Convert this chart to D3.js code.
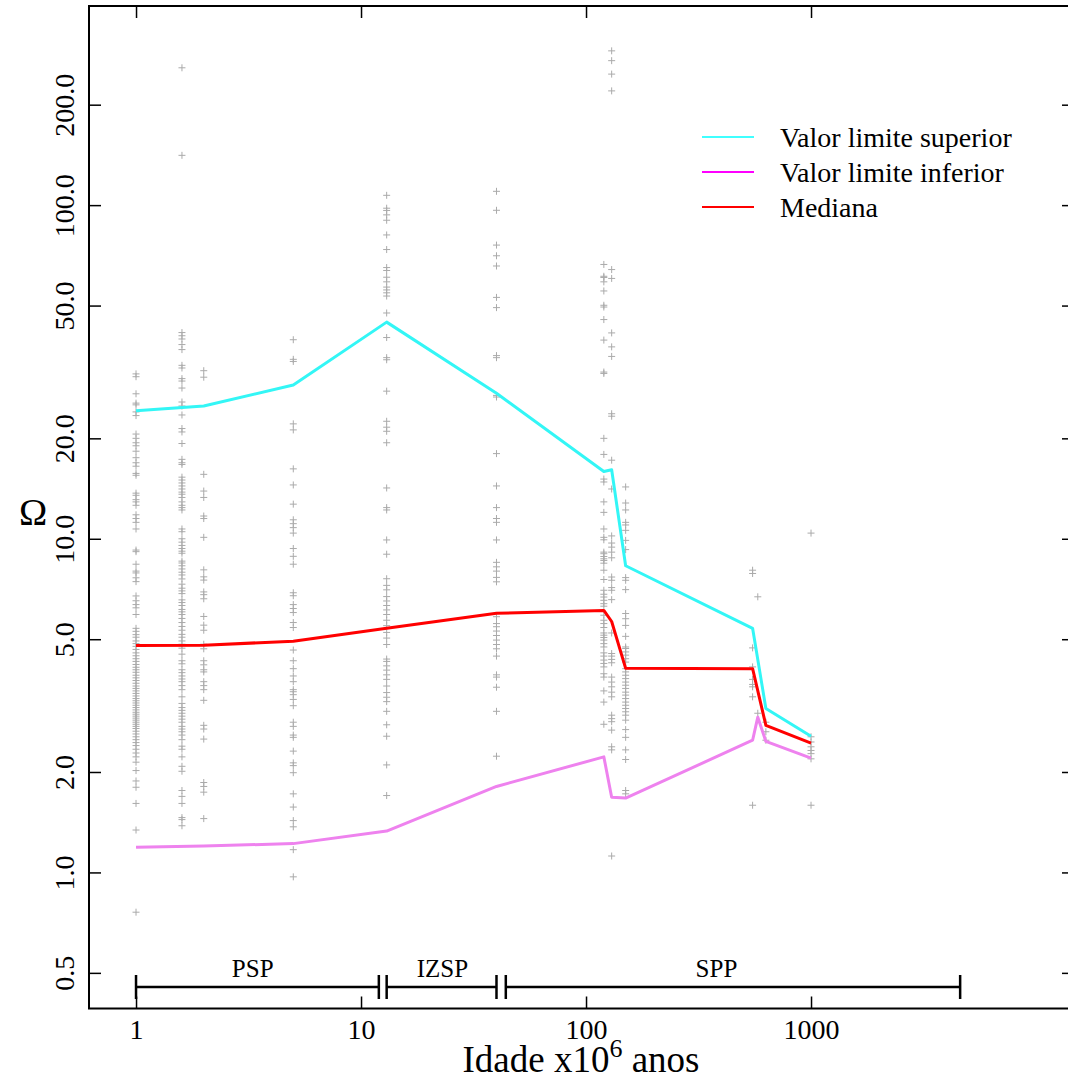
<!DOCTYPE html>
<html lang="pt">
<head>
<meta charset="utf-8">
<title>Omega x idade</title>
<style>
  body { margin: 0; background: #fff; overflow: hidden; }
  svg text { font-family: "Liberation Serif", "Times New Roman", serif; fill: #000; }
</style>
<script src="https://cdn.jsdelivr.net/npm/d3@7"></script>
</head>
<body>
<script>

// idades (x10^6 anos) das curvas
var idades    = [1, 2, 5, 13, 40, 120, 130, 150, 550, 580, 630, 1000];
var superior  = [24.2, 25.0, 28.9, 44.6, 27.3, 15.9, 16.1, 8.3, 5.39, null, 3.1, 2.56];
var mediana   = [4.79, 4.8, 4.93, 5.39, 5.98, 6.1, 5.65, 4.09, 4.08, null, 2.76, 2.44];
var inferior  = [1.19, 1.2, 1.22, 1.33, 1.81, 2.22, 1.68, 1.67, 2.49, 2.92, 2.47, 2.2];

// medidas individuais por idade
var omega_1 = [31.2, 30.6, 27.2, 25.5, 25.2, 24.0, 23.4, 20.6, 20.0, 19.4, 19.0, 18.3, 17.5, 16.9, 16.5,
  15.7, 15.5, 13.7, 13.5, 13.1, 12.9, 12.6, 11.8, 11.5, 11.2, 10.7, 9.25, 9.15, 8.39, 8.0, 7.9, 7.64,
  7.44, 6.74, 6.52, 6.35, 6.21, 5.93, 5.39, 5.28, 5.16, 5.07, 4.94, 4.85, 4.76, 4.66, 4.55, 4.46, 4.37,
  4.29, 4.2, 4.12, 4.05, 3.98, 3.9, 3.83, 3.76, 3.69, 3.62, 3.56, 3.5, 3.44, 3.38, 3.32, 3.27, 3.22,
  3.17, 3.12, 3.07, 3.02, 2.98, 2.94, 2.9, 2.86, 2.82, 2.78, 2.74, 2.7, 2.65, 2.6, 2.55, 2.5, 2.45,
  2.4, 2.34, 2.28, 2.22, 2.14, 2.02, 1.88, 1.8, 1.61, 1.34, 0.76];
var omega_1_6 = [258, 141, 41.5, 40.6, 39.7, 38.2, 36.9, 33.1, 32.5, 30.2, 29.7, 28.3, 25.7, 25.0, 23.5,
  21.4, 20.9, 19.3, 17.3, 16.9, 16.7, 15.3, 15.0, 14.7, 14.4, 14.1, 13.8, 13.6, 13.3, 12.9, 12.6, 12.4,
  12.2, 10.7, 10.5, 10.0, 9.77, 9.55, 9.35, 9.18, 9.05, 8.57, 8.46, 8.3, 8.12, 7.94, 7.79, 7.58, 7.31,
  7.11, 6.98, 6.85, 6.56, 6.44, 6.31, 6.14, 6.04, 5.93, 5.77, 5.61, 5.46, 5.32, 5.17, 5.07, 4.94, 4.83,
  4.7, 4.51, 4.31, 4.22, 4.05, 3.97, 3.88, 3.8, 3.73, 3.63, 3.53, 3.36, 3.21, 3.12, 3.06, 3.0, 2.94,
  2.88, 2.82, 2.74, 2.69, 2.64, 2.58, 2.5, 2.39, 2.34, 2.22, 2.08, 2.01, 1.76, 1.69, 1.61, 1.46, 1.44, 1.38];
var omega_2 = [31.9, 30.5, 15.6, 13.9, 13.3, 11.7, 11.5, 10.1, 8.07, 7.69, 7.52, 6.93, 6.8, 6.61, 5.85,
  5.51, 5.32, 4.83, 4.68, 4.31, 4.19, 4.05, 3.99, 3.73, 3.63, 3.53, 3.28, 2.76, 2.69, 2.51, 1.86, 1.81,
  1.74, 1.45];
var omega_5 = [39.5, 34.5, 34.0, 22.1, 21.2, 16.2, 14.5, 12.7, 11.4, 11.1, 10.8, 10.4, 9.35, 8.86, 8.39,
  6.89, 6.75, 6.35, 6.18, 6.01, 5.61, 5.42, 4.64, 4.31, 4.08, 3.88, 3.73, 3.53, 3.48, 3.41, 3.3, 3.16,
  2.82, 2.74, 2.58, 2.54, 2.31, 2.13, 2.09, 1.99, 1.72, 1.57, 1.43, 1.37, 1.17, 0.97];
var omega_13 = [107, 97.9, 96.4, 93.5, 90.1, 81.4, 73.6, 65.0, 63.7, 60.8, 58.9, 56.8, 55.7, 54.6, 53.4,
  47.5, 40.1, 34.9, 34.4, 27.7, 22.5, 21.6, 21.0, 19.4, 14.2, 12.4, 12.2, 9.92, 8.99, 7.59, 7.25, 7.03,
  6.71, 6.51, 6.31, 6.12, 5.93, 5.7, 5.49, 5.24, 5.04, 4.82, 4.36, 4.29, 4.16, 4.04, 3.91, 3.79, 3.62,
  3.46, 3.35, 3.25, 3.04, 2.77, 2.56, 2.1, 1.7];
var omega_40 = [110, 96.5, 75.9, 70.5, 65.7, 52.9, 49.3, 35.4, 34.9, 26.9, 26.6, 18.0, 14.4, 12.4, 11.5,
  11.2, 9.92, 8.5, 8.24, 8.0, 7.66, 7.43, 5.84, 5.57, 5.45, 5.29, 5.13, 4.97, 4.82, 4.68, 4.45, 3.91,
  3.85, 3.59, 3.04, 2.23];
var omega_120 = [66.4, 61.2, 60.7, 58.9, 55.3, 50.1, 49.5, 45.4, 39.4, 31.6, 31.3, 20.0, 17.9, 15.1, 14.8,
  12.9, 12.0, 10.7, 10.1, 9.93, 9.12, 9.02, 8.85, 8.71, 8.61, 8.45, 8.05, 7.55, 7.01, 6.82, 6.69, 6.54,
  6.39, 6.28, 5.9, 5.7, 5.57, 5.42, 5.22, 5.14, 5.06, 4.97, 4.85, 4.74, 4.55, 4.45, 4.33, 4.23, 4.13,
  3.94, 3.85, 3.5, 3.24, 2.78];
var omega_130 = [290, 271, 247, 220, 64.1, 60.3, 41.4, 37.6, 35.2, 23.7, 23.3, 17.2, 14.1, 10.2, 9.71,
  9.44, 9.12, 8.77, 7.68, 7.51, 7.14, 7.01, 6.57, 5.22, 4.53, 4.45, 4.35, 4.25, 3.85, 3.72, 3.6, 3.47,
  3.36, 2.96, 2.89, 2.83, 2.67, 2.38, 2.33, 1.12];
var omega_150 = [14.3, 12.8, 12.2, 11.2, 11.0, 10.6, 9.89, 9.28, 7.65, 7.51, 7.04, 5.97, 5.76, 5.5, 5.1,
  4.74, 4.69, 4.58, 4.48, 4.37, 4.27, 4.08, 3.99, 3.9, 3.81, 3.72, 3.64, 3.56, 3.47, 3.4, 3.32, 3.24,
  3.17, 3.1, 3.03, 2.96, 2.86, 2.68, 2.54, 2.33, 2.18, 1.76, 1.72];
var omega_550 = [8.05, 7.87, 4.71, 4.13, 3.79, 3.66, 3.6, 3.36, 1.59];
var omega_580 = [6.7, 3.0];
var omega_630 = [2.82, 2.64, 2.49];
var omega_1000 = [10.4, 2.55, 2.46, 2.38, 2.32, 2.27, 2.19, 1.59];

var colunas = [
  {idade: 1, v: omega_1}, {idade: 1.6, v: omega_1_6}, {idade: 2, v: omega_2},
  {idade: 5, v: omega_5}, {idade: 13, v: omega_13}, {idade: 40, v: omega_40},
  {idade: 120, v: omega_120}, {idade: 130, v: omega_130}, {idade: 150, v: omega_150},
  {idade: 550, v: omega_550}, {idade: 580, v: omega_580}, {idade: 630, v: omega_630},
  {idade: 1000, v: omega_1000}
];

// periodos geologicos (inicio, fim, posicao do rotulo)
var periodos   = ['PSP', 'IZSP', 'SPP'];
var per_inicio = [1, 13, 44];
var per_fim    = [12, 40, 4600];
var per_rotulo = [3.3, 23, 380];

var yTicks = [0.5, 1, 2, 5, 10, 20, 50, 100, 200];
var xTicks = [1, 10, 100, 1000];

var w = 1068, h = 1080;
// caixa do grafico: o lado direito fica fora da janela, como no original
var pL = 89, pT = 6, pR = 1074, pB = 1008.5;

var svg = d3.select('body').append('svg')
  .attr('width', w)
  .attr('height', h);

var x = d3.scaleLog().domain([0.618, 14750]).range([pL, pR]);
var y = d3.scaleLog().domain([0.391, 395.2]).range([pB, pT]);

// pontos
var pts = [];
colunas.forEach(function(c){ c.v.forEach(function(v){ pts.push([c.idade, v]); }); });

svg.append('g').selectAll('path')
  .data(pts)
  .enter()
  .append('path')
  .attr('transform', function(d){ return 'translate(' + x(d[0]) + ',' + y(d[1]) + ')'; })
  .attr('d', 'M-3.5,0H3.5M0,-3.5V3.5')
  .attr('stroke', '#aaaaaa')
  .attr('stroke-width', 1)
  .attr('fill', 'none');

// curvas
var series = [
  {nome: 'Valor limite inferior', v: inferior, cor: '#ee82ee'},
  {nome: 'Valor limite superior', v: superior, cor: '#33f6f6'},
  {nome: 'Mediana', v: mediana, cor: '#ff0000'}
];

var line = d3.line()
  .x(function(d){ return x(d[0]); })
  .y(function(d){ return y(d[1]); });

series.forEach(function(s){
  var dd = idades.map(function(a, i){ return [a, s.v[i]]; })
    .filter(function(d){ return d[1] != null; });
  svg.append('path')
    .datum(dd)
    .attr('d', line)
    .attr('fill', 'none')
    .attr('stroke', s.cor)
    .attr('stroke-width', 3)
    .attr('stroke-linejoin', 'round');
});

// eixos
var fmt = d3.format('.1f');

var gx = svg.append('g')
  .attr('transform', 'translate(0,' + pB + ')')
  .call(d3.axisBottom(x).tickValues(xTicks).tickFormat(d3.format('d'))
    .tickSize(-12).tickSizeOuter(0).tickPadding(11));
gx.select('.domain').remove();
gx.selectAll('text').attr('font-size', 28).style('font-family', '"Liberation Serif", serif');

var gy = svg.append('g')
  .attr('transform', 'translate(' + pL + ',0)')
  .call(d3.axisLeft(y).tickValues(yTicks).tickFormat(fmt).tickSize(-12).tickSizeOuter(0));
gy.select('.domain').remove();
gy.selectAll('text')
  .attr('x', null).attr('dy', null)
  .attr('text-anchor', 'middle')
  .attr('transform', 'translate(-15,0) rotate(-90)')
  .attr('font-size', 28)
  .style('font-family', '"Liberation Serif", serif');

var gt = svg.append('g')
  .attr('transform', 'translate(0,' + pT + ')')
  .call(d3.axisTop(x).tickValues(xTicks).tickFormat('').tickSize(-12).tickSizeOuter(0));
gt.select('.domain').remove();

var gr = svg.append('g')
  .attr('transform', 'translate(' + pR + ',0)')
  .call(d3.axisRight(y).tickValues(yTicks).tickFormat('').tickSize(-12).tickSizeOuter(0));
gr.select('.domain').remove();

svg.selectAll('.tick line').attr('stroke-width', 1.5);

svg.append('rect')
  .attr('x', pL).attr('y', pT)
  .attr('width', pR - pL).attr('height', pB - pT)
  .attr('fill', 'none')
  .attr('stroke', '#000')
  .attr('stroke-width', 2);

// periodos
var barY = 987;
var gp = svg.append('g').attr('stroke', '#000').attr('stroke-width', 2.5);
periodos.forEach(function(p, i){
  var x0 = x(per_inicio[i]), x1 = x(per_fim[i]);
  gp.append('line').attr('x1', x0).attr('x2', x1).attr('y1', barY).attr('y2', barY);
  gp.append('line').attr('x1', x0).attr('x2', x0).attr('y1', barY - 12).attr('y2', barY + 12);
  gp.append('line').attr('x1', x1).attr('x2', x1).attr('y1', barY - 12).attr('y2', barY + 12);
  svg.append('text')
    .attr('x', x(per_rotulo[i]))
    .attr('y', 977)
    .attr('text-anchor', 'middle')
    .attr('font-size', 25)
    .text(p);
});

// legenda
var leg = [
  {nome: 'Valor limite superior', cor: '#40ffff'},
  {nome: 'Valor limite inferior', cor: '#ff00ff'},
  {nome: 'Mediana', cor: '#ff0000'}
];
leg.forEach(function(l, i){
  var ly = 137 + i * 35;
  svg.append('line')
    .attr('x1', 702).attr('x2', 754).attr('y1', ly).attr('y2', ly)
    .attr('stroke', l.cor).attr('stroke-width', 2);
  svg.append('text')
    .attr('x', 780).attr('y', ly + 10)
    .attr('font-size', 28)
    .text(l.nome);
});

// titulos
var xt = svg.append('text')
  .attr('x', 581).attr('y', 1072)
  .attr('text-anchor', 'middle')
  .attr('font-size', 37);
xt.append('tspan').text('Idade x10');
xt.append('tspan').attr('dy', -15).attr('font-size', 26).text('6');
xt.append('tspan').attr('dy', 15).text(' anos');

svg.append('text')
  .attr('x', 33).attr('y', 525)
  .attr('text-anchor', 'middle')
  .attr('font-size', 38)
  .text('\u03A9');

</script>
</body>
</html>
